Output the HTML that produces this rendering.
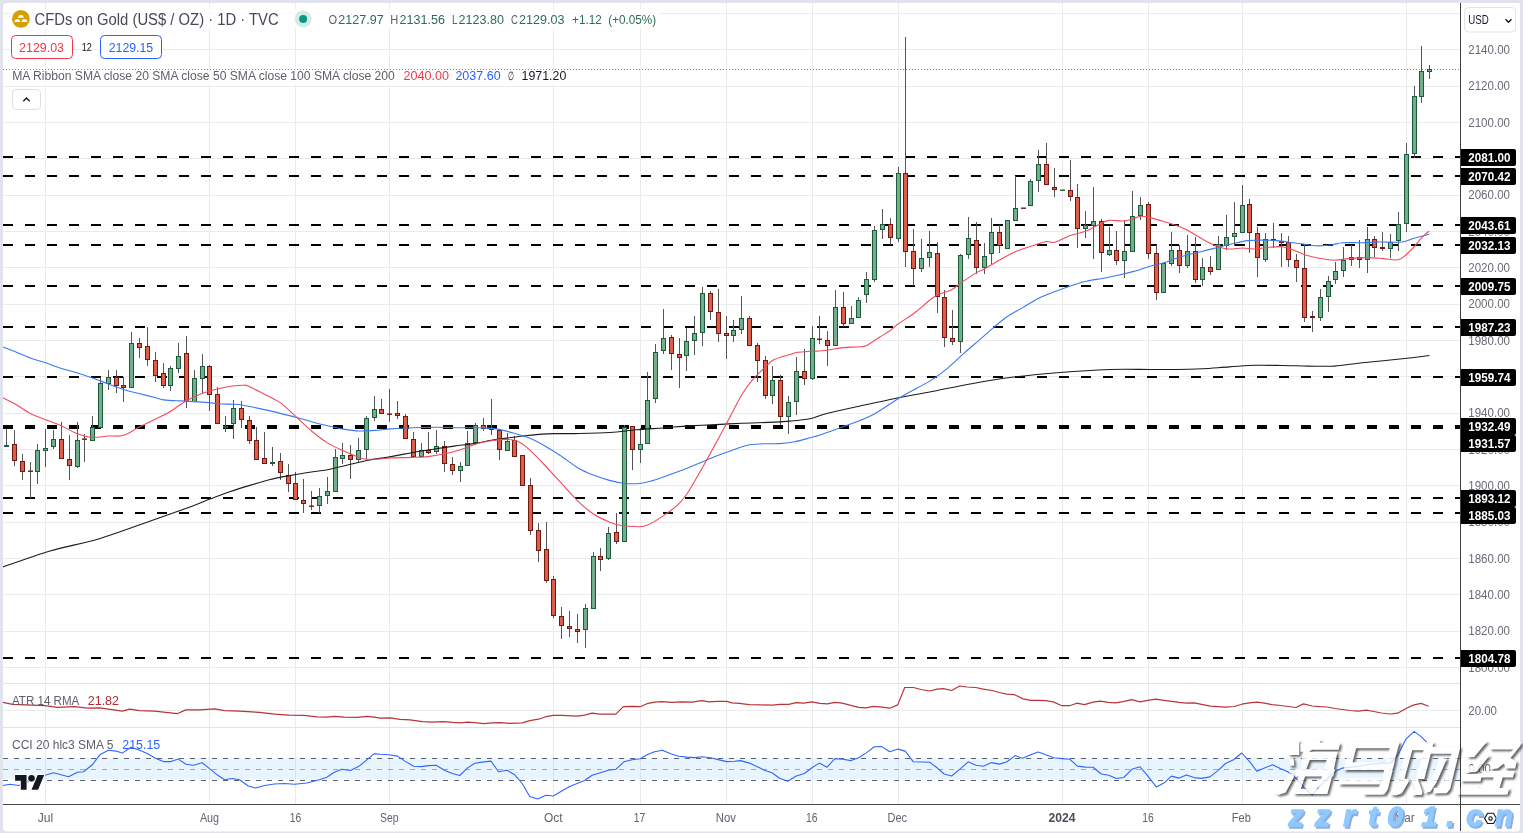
<!DOCTYPE html>
<html><head><meta charset="utf-8"><title>CFDs on Gold</title>
<style>html,body{margin:0;padding:0;background:#e0e3eb;overflow:hidden}body{width:1523px;height:833px;font-family:"Liberation Sans", sans-serif}svg{display:block;opacity:0.999}text{white-space:pre}</style>
</head><body><svg width="1523" height="833" viewBox="0 0 1523 833" font-family='"Liberation Sans", sans-serif' shape-rendering="auto"><rect x="0" y="0" width="1523" height="833" fill="#e0e3eb"/>
<rect x="3" y="3" width="1517" height="828.5" rx="4" ry="4" fill="#ffffff"/>
<path d="M3 13.5H1460 M3 49.5H1460 M3 86.5H1460 M3 122.5H1460 M3 158.5H1460 M3 195.5H1460 M3 231.5H1460 M3 267.5H1460 M3 304.5H1460 M3 340.5H1460 M3 376.5H1460 M3 413.5H1460 M3 449.5H1460 M3 485.5H1460 M3 522.5H1460 M3 558.5H1460 M3 594.5H1460 M3 631.5H1460 M3 667.5H1460 M3 710.5H1460 M45.5 3V804 M209.5 3V804 M295.5 3V804 M389.5 3V804 M553.5 3V804 M640.5 3V804 M726.5 3V804 M812.5 3V804 M898.5 3V804 M1062.5 3V804 M1148.5 3V804 M1242.5 3V804 M1406.5 3V804" stroke="#ebebec" stroke-width="1" fill="none"/>
<path d="M3 683.5H1520M3 727.5H1520" stroke="#e0e3eb" stroke-width="1" fill="none"/>
<rect x="3" y="758" width="1457" height="21.5" fill="#2196f3" fill-opacity="0.1"/>
<path d="M3 758.5H1460M3 780.5H1460" stroke="#5d6173" stroke-width="1" stroke-dasharray="5 6" fill="none"/>
<path d="M3 769.5H1460" stroke="#a4a8b3" stroke-width="1" stroke-dasharray="5 6" fill="none"/>
<path d="M3 69.5H1460" stroke="#5aa17c" stroke-width="1" stroke-dasharray="1 2" fill="none"/>
<path d="M3 157H1470" stroke="#000" stroke-width="2" stroke-dasharray="10 12" fill="none"/>
<path d="M3 176H1470" stroke="#000" stroke-width="2" stroke-dasharray="10 12" fill="none"/>
<path d="M3 225H1470" stroke="#000" stroke-width="2" stroke-dasharray="10 12" fill="none"/>
<path d="M3 245H1470" stroke="#000" stroke-width="2" stroke-dasharray="10 12" fill="none"/>
<path d="M3 286H1470" stroke="#000" stroke-width="2" stroke-dasharray="10 12" fill="none"/>
<path d="M3 327H1470" stroke="#000" stroke-width="2" stroke-dasharray="10 12" fill="none"/>
<path d="M3 377H1470" stroke="#000" stroke-width="2" stroke-dasharray="10 12" fill="none"/>
<path d="M3 426H1470" stroke="#000" stroke-width="2" stroke-dasharray="10 12" fill="none"/>
<path d="M3 428H1470" stroke="#000" stroke-width="2" stroke-dasharray="10 12" fill="none"/>
<path d="M3 498H1470" stroke="#000" stroke-width="2" stroke-dasharray="10 12" fill="none"/>
<path d="M3 513H1470" stroke="#000" stroke-width="2" stroke-dasharray="10 12" fill="none"/>
<path d="M3 658H1470" stroke="#000" stroke-width="2" stroke-dasharray="10 12" fill="none"/>
<path d="M6.5 429V447 M14.5 430V466 M22.5 454V480 M30.5 462V498 M37.5 444V484 M45.5 429V467 M53.5 430V449 M61.5 422V459 M69.5 435V480 M77.5 422V468 M84.5 434V462 M92.5 416V441 M100.5 377V428 M108.5 370V390 M116.5 370V393 M123.5 377V402 M131.5 332V388 M139.5 338V358 M147.5 327V366 M155.5 352V382 M163.5 363V388 M170.5 366V391 M178.5 343V373 M186.5 336V408 M194.5 370V402 M202.5 354V394 M209.5 365V411 M217.5 387V424 M225.5 416V432 M233.5 400V439 M241.5 401V428 M249.5 416V444 M256.5 427V460 M264.5 432V464 M272.5 447V466 M280.5 453V480 M288.5 464V492 M295.5 472V500 M303.5 479V513 M311.5 491V510 M319.5 488V513 M327.5 477V504 M335.5 449V492 M342.5 443V464 M350.5 445V479 M358.5 438V462 M366.5 416V459 M374.5 396V421 M381.5 399V414 M389.5 389V422 M397.5 401V419 M405.5 414V439 M413.5 432V458 M421.5 443V457 M428.5 432V454 M436.5 430V454 M444.5 441V472 M452.5 457V475 M460.5 462V482 M467.5 431V466 M475.5 423V443 M483.5 418V431 M491.5 399V435 M499.5 429V460 M507.5 433V451 M514.5 436V457 M522.5 455V486 M530.5 478V535 M538.5 523V562 M546.5 522V583 M553.5 576V618 M561.5 607V639 M569.5 611V637 M577.5 614V643 M585.5 604V648 M593.5 552V609 M600.5 548V571 M608.5 527V560 M616.5 513V544 M624.5 425V542 M632.5 426V470 M640.5 428V463 M647.5 372V444 M655.5 344V403 M663.5 309V354 M671.5 335V370 M679.5 338V388 M686.5 328V371 M694.5 316V355 M702.5 287V346 M710.5 291V320 M718.5 289V342 M726.5 316V359 M733.5 320V342 M741.5 296V334 M749.5 316V346 M757.5 343V382 M765.5 356V399 M772.5 366V404 M780.5 375V425 M788.5 396V434 M796.5 357V415 M804.5 349V385 M812.5 326V380 M819.5 316V344 M827.5 331V366 M835.5 290V346 M843.5 292V327 M851.5 306V324 M858.5 297V318 M866.5 272V303 M874.5 226V282 M882.5 209V239 M890.5 218V245 M898.5 167V242 M905.5 37V267 M913.5 229V286 M921.5 239V272 M929.5 231V267 M937.5 242V313 M944.5 290V347 M952.5 310V345 M960.5 254V353 M968.5 217V259 M976.5 222V274 M984.5 243V274 M991.5 218V264 M999.5 225V253 M1007.5 220V249 M1015.5 176V221 M1030.5 179V206 M1038.5 150V192 M1046.5 143V185 M1054.5 168V197 M1070.5 160V201 M1077.5 184V248 M1085.5 211V238 M1093.5 187V259 M1101.5 219V272 M1109.5 227V256 M1116.5 231V265 M1124.5 220V278 M1132.5 191V252 M1140.5 197V220 M1148.5 202V259 M1156.5 245V300 M1163.5 263V293 M1171.5 232V266 M1179.5 245V273 M1187.5 235V268 M1195.5 237V283 M1202.5 258V286 M1210.5 256V275 M1218.5 236V270 M1226.5 215V250 M1234.5 202V246 M1242.5 185V233 M1249.5 199V253 M1257.5 227V277 M1265.5 233V262 M1273.5 223V248 M1281.5 233V267 M1288.5 236V267 M1296.5 254V282 M1304.5 244V322 M1312.5 311V332 M1320.5 289V321 M1328.5 276V312 M1335.5 262V284 M1343.5 247V277 M1351.5 245V266 M1359.5 240V268 M1367.5 227V273 M1374.5 236V257 M1382.5 232V251 M1390.5 234V258 M1398.5 212V251 M1406.5 143V232 M1414.5 86V158 M1421.5 46V103 M1429.5 65V79" stroke="#555" stroke-width="1" fill="none"/>
<rect x="4.5" y="445.5" width="4" height="1" fill="#72ad8c" stroke="#1e5b3b" stroke-width="1"/><rect x="12.5" y="444.5" width="4" height="16" fill="#dd5c4a" stroke="#6e1a12" stroke-width="1"/><rect x="20.5" y="461.5" width="4" height="10" fill="#dd5c4a" stroke="#6e1a12" stroke-width="1"/><rect x="28" y="470.5" width="5" height="1.4" fill="#6e1a12"/><rect x="35.5" y="450.5" width="4" height="21" fill="#72ad8c" stroke="#1e5b3b" stroke-width="1"/><rect x="43.5" y="448.5" width="4" height="2" fill="#72ad8c" stroke="#1e5b3b" stroke-width="1"/><rect x="51.5" y="439.5" width="4" height="7" fill="#72ad8c" stroke="#1e5b3b" stroke-width="1"/><rect x="59.5" y="439.5" width="4" height="19" fill="#dd5c4a" stroke="#6e1a12" stroke-width="1"/><rect x="67.5" y="459.5" width="4" height="6" fill="#dd5c4a" stroke="#6e1a12" stroke-width="1"/><rect x="75.5" y="440.5" width="4" height="26" fill="#72ad8c" stroke="#1e5b3b" stroke-width="1"/><rect x="82" y="438.5" width="5" height="1.4" fill="#6e1a12"/><rect x="90.5" y="427.5" width="4" height="13" fill="#72ad8c" stroke="#1e5b3b" stroke-width="1"/><rect x="98.5" y="383.5" width="4" height="44" fill="#72ad8c" stroke="#1e5b3b" stroke-width="1"/><rect x="106.5" y="377.5" width="4" height="6" fill="#72ad8c" stroke="#1e5b3b" stroke-width="1"/><rect x="114.5" y="377.5" width="4" height="8" fill="#dd5c4a" stroke="#6e1a12" stroke-width="1"/><rect x="121.5" y="385.5" width="4" height="2" fill="#dd5c4a" stroke="#6e1a12" stroke-width="1"/><rect x="129.5" y="343.5" width="4" height="44" fill="#72ad8c" stroke="#1e5b3b" stroke-width="1"/><rect x="137.5" y="343.5" width="4" height="4" fill="#dd5c4a" stroke="#6e1a12" stroke-width="1"/><rect x="145.5" y="346.5" width="4" height="13" fill="#dd5c4a" stroke="#6e1a12" stroke-width="1"/><rect x="153.5" y="360.5" width="4" height="15" fill="#dd5c4a" stroke="#6e1a12" stroke-width="1"/><rect x="161.5" y="373.5" width="4" height="12" fill="#dd5c4a" stroke="#6e1a12" stroke-width="1"/><rect x="168.5" y="368.5" width="4" height="17" fill="#72ad8c" stroke="#1e5b3b" stroke-width="1"/><rect x="176.5" y="356.5" width="4" height="12" fill="#72ad8c" stroke="#1e5b3b" stroke-width="1"/><rect x="184.5" y="353.5" width="4" height="48" fill="#dd5c4a" stroke="#6e1a12" stroke-width="1"/><rect x="192.5" y="378.5" width="4" height="23" fill="#72ad8c" stroke="#1e5b3b" stroke-width="1"/><rect x="200.5" y="366.5" width="4" height="12" fill="#72ad8c" stroke="#1e5b3b" stroke-width="1"/><rect x="207.5" y="366.5" width="4" height="28" fill="#dd5c4a" stroke="#6e1a12" stroke-width="1"/><rect x="215.5" y="394.5" width="4" height="29" fill="#dd5c4a" stroke="#6e1a12" stroke-width="1"/><rect x="223.5" y="426.5" width="4" height="1" fill="#72ad8c" stroke="#1e5b3b" stroke-width="1"/><rect x="231.5" y="408.5" width="4" height="15" fill="#72ad8c" stroke="#1e5b3b" stroke-width="1"/><rect x="239.5" y="408.5" width="4" height="11" fill="#dd5c4a" stroke="#6e1a12" stroke-width="1"/><rect x="247.5" y="420.5" width="4" height="20" fill="#dd5c4a" stroke="#6e1a12" stroke-width="1"/><rect x="254.5" y="440.5" width="4" height="19" fill="#dd5c4a" stroke="#6e1a12" stroke-width="1"/><rect x="262.5" y="458.5" width="4" height="5" fill="#dd5c4a" stroke="#6e1a12" stroke-width="1"/><rect x="270.5" y="462.5" width="4" height="1" fill="#72ad8c" stroke="#1e5b3b" stroke-width="1"/><rect x="278.5" y="461.5" width="4" height="11" fill="#dd5c4a" stroke="#6e1a12" stroke-width="1"/><rect x="286.5" y="475.5" width="4" height="8" fill="#dd5c4a" stroke="#6e1a12" stroke-width="1"/><rect x="293.5" y="483.5" width="4" height="16" fill="#dd5c4a" stroke="#6e1a12" stroke-width="1"/><rect x="301.5" y="500.5" width="4" height="3" fill="#dd5c4a" stroke="#6e1a12" stroke-width="1"/><rect x="309" y="505.5" width="5" height="1.4" fill="#6e1a12"/><rect x="317.5" y="496.5" width="4" height="9" fill="#72ad8c" stroke="#1e5b3b" stroke-width="1"/><rect x="325.5" y="491.5" width="4" height="4" fill="#72ad8c" stroke="#1e5b3b" stroke-width="1"/><rect x="333.5" y="457.5" width="4" height="34" fill="#72ad8c" stroke="#1e5b3b" stroke-width="1"/><rect x="340.5" y="455.5" width="4" height="3" fill="#72ad8c" stroke="#1e5b3b" stroke-width="1"/><rect x="348.5" y="455.5" width="4" height="4" fill="#dd5c4a" stroke="#6e1a12" stroke-width="1"/><rect x="356.5" y="450.5" width="4" height="9" fill="#72ad8c" stroke="#1e5b3b" stroke-width="1"/><rect x="364.5" y="418.5" width="4" height="31" fill="#72ad8c" stroke="#1e5b3b" stroke-width="1"/><rect x="372.5" y="409.5" width="4" height="8" fill="#72ad8c" stroke="#1e5b3b" stroke-width="1"/><rect x="379.5" y="409.5" width="4" height="4" fill="#dd5c4a" stroke="#6e1a12" stroke-width="1"/><rect x="387" y="413.5" width="5" height="1.4" fill="#6e1a12"/><rect x="395.5" y="413.5" width="4" height="2" fill="#dd5c4a" stroke="#6e1a12" stroke-width="1"/><rect x="403.5" y="416.5" width="4" height="22" fill="#dd5c4a" stroke="#6e1a12" stroke-width="1"/><rect x="411.5" y="439.5" width="4" height="17" fill="#dd5c4a" stroke="#6e1a12" stroke-width="1"/><rect x="419.5" y="450.5" width="4" height="6" fill="#72ad8c" stroke="#1e5b3b" stroke-width="1"/><rect x="426.5" y="450.5" width="4" height="2" fill="#dd5c4a" stroke="#6e1a12" stroke-width="1"/><rect x="434.5" y="446.5" width="4" height="5" fill="#72ad8c" stroke="#1e5b3b" stroke-width="1"/><rect x="442.5" y="446.5" width="4" height="17" fill="#dd5c4a" stroke="#6e1a12" stroke-width="1"/><rect x="450.5" y="464.5" width="4" height="6" fill="#dd5c4a" stroke="#6e1a12" stroke-width="1"/><rect x="458.5" y="466.5" width="4" height="4" fill="#72ad8c" stroke="#1e5b3b" stroke-width="1"/><rect x="465.5" y="443.5" width="4" height="22" fill="#72ad8c" stroke="#1e5b3b" stroke-width="1"/><rect x="473.5" y="425.5" width="4" height="17" fill="#72ad8c" stroke="#1e5b3b" stroke-width="1"/><rect x="481.5" y="425.5" width="4" height="3" fill="#dd5c4a" stroke="#6e1a12" stroke-width="1"/><rect x="489.5" y="428.5" width="4" height="1" fill="#dd5c4a" stroke="#6e1a12" stroke-width="1"/><rect x="497.5" y="430.5" width="4" height="19" fill="#dd5c4a" stroke="#6e1a12" stroke-width="1"/><rect x="505.5" y="441.5" width="4" height="9" fill="#72ad8c" stroke="#1e5b3b" stroke-width="1"/><rect x="512.5" y="440.5" width="4" height="16" fill="#dd5c4a" stroke="#6e1a12" stroke-width="1"/><rect x="520.5" y="455.5" width="4" height="30" fill="#dd5c4a" stroke="#6e1a12" stroke-width="1"/><rect x="528.5" y="485.5" width="4" height="45" fill="#dd5c4a" stroke="#6e1a12" stroke-width="1"/><rect x="536.5" y="530.5" width="4" height="20" fill="#dd5c4a" stroke="#6e1a12" stroke-width="1"/><rect x="544.5" y="549.5" width="4" height="31" fill="#dd5c4a" stroke="#6e1a12" stroke-width="1"/><rect x="551.5" y="579.5" width="4" height="36" fill="#dd5c4a" stroke="#6e1a12" stroke-width="1"/><rect x="559.5" y="616.5" width="4" height="9" fill="#dd5c4a" stroke="#6e1a12" stroke-width="1"/><rect x="567.5" y="626.5" width="4" height="2" fill="#dd5c4a" stroke="#6e1a12" stroke-width="1"/><rect x="575.5" y="629.5" width="4" height="2" fill="#dd5c4a" stroke="#6e1a12" stroke-width="1"/><rect x="583.5" y="608.5" width="4" height="21" fill="#72ad8c" stroke="#1e5b3b" stroke-width="1"/><rect x="591.5" y="556.5" width="4" height="52" fill="#72ad8c" stroke="#1e5b3b" stroke-width="1"/><rect x="598.5" y="556.5" width="4" height="3" fill="#dd5c4a" stroke="#6e1a12" stroke-width="1"/><rect x="606.5" y="533.5" width="4" height="25" fill="#72ad8c" stroke="#1e5b3b" stroke-width="1"/><rect x="614.5" y="532.5" width="4" height="9" fill="#dd5c4a" stroke="#6e1a12" stroke-width="1"/><rect x="622.5" y="427.5" width="4" height="114" fill="#72ad8c" stroke="#1e5b3b" stroke-width="1"/><rect x="630.5" y="426.5" width="4" height="23" fill="#dd5c4a" stroke="#6e1a12" stroke-width="1"/><rect x="638.5" y="444.5" width="4" height="5" fill="#72ad8c" stroke="#1e5b3b" stroke-width="1"/><rect x="645.5" y="400.5" width="4" height="43" fill="#72ad8c" stroke="#1e5b3b" stroke-width="1"/><rect x="653.5" y="352.5" width="4" height="46" fill="#72ad8c" stroke="#1e5b3b" stroke-width="1"/><rect x="661.5" y="338.5" width="4" height="12" fill="#72ad8c" stroke="#1e5b3b" stroke-width="1"/><rect x="669.5" y="337.5" width="4" height="16" fill="#dd5c4a" stroke="#6e1a12" stroke-width="1"/><rect x="677.5" y="354.5" width="4" height="3" fill="#dd5c4a" stroke="#6e1a12" stroke-width="1"/><rect x="684.5" y="341.5" width="4" height="14" fill="#72ad8c" stroke="#1e5b3b" stroke-width="1"/><rect x="692.5" y="333.5" width="4" height="7" fill="#72ad8c" stroke="#1e5b3b" stroke-width="1"/><rect x="700.5" y="293.5" width="4" height="39" fill="#72ad8c" stroke="#1e5b3b" stroke-width="1"/><rect x="708.5" y="293.5" width="4" height="18" fill="#dd5c4a" stroke="#6e1a12" stroke-width="1"/><rect x="716.5" y="312.5" width="4" height="21" fill="#dd5c4a" stroke="#6e1a12" stroke-width="1"/><rect x="724.5" y="333.5" width="4" height="2" fill="#dd5c4a" stroke="#6e1a12" stroke-width="1"/><rect x="731.5" y="330.5" width="4" height="5" fill="#72ad8c" stroke="#1e5b3b" stroke-width="1"/><rect x="739.5" y="318.5" width="4" height="11" fill="#72ad8c" stroke="#1e5b3b" stroke-width="1"/><rect x="747.5" y="318.5" width="4" height="27" fill="#dd5c4a" stroke="#6e1a12" stroke-width="1"/><rect x="755.5" y="345.5" width="4" height="15" fill="#dd5c4a" stroke="#6e1a12" stroke-width="1"/><rect x="763.5" y="360.5" width="4" height="35" fill="#dd5c4a" stroke="#6e1a12" stroke-width="1"/><rect x="770.5" y="380.5" width="4" height="15" fill="#72ad8c" stroke="#1e5b3b" stroke-width="1"/><rect x="778.5" y="380.5" width="4" height="36" fill="#dd5c4a" stroke="#6e1a12" stroke-width="1"/><rect x="786.5" y="402.5" width="4" height="14" fill="#72ad8c" stroke="#1e5b3b" stroke-width="1"/><rect x="794.5" y="371.5" width="4" height="30" fill="#72ad8c" stroke="#1e5b3b" stroke-width="1"/><rect x="802.5" y="371.5" width="4" height="7" fill="#dd5c4a" stroke="#6e1a12" stroke-width="1"/><rect x="810.5" y="338.5" width="4" height="40" fill="#72ad8c" stroke="#1e5b3b" stroke-width="1"/><rect x="817" y="338.5" width="5" height="1.4" fill="#6e1a12"/><rect x="825.5" y="340.5" width="4" height="5" fill="#dd5c4a" stroke="#6e1a12" stroke-width="1"/><rect x="833.5" y="307.5" width="4" height="38" fill="#72ad8c" stroke="#1e5b3b" stroke-width="1"/><rect x="841.5" y="307.5" width="4" height="16" fill="#dd5c4a" stroke="#6e1a12" stroke-width="1"/><rect x="849.5" y="318.5" width="4" height="5" fill="#72ad8c" stroke="#1e5b3b" stroke-width="1"/><rect x="856.5" y="300.5" width="4" height="17" fill="#72ad8c" stroke="#1e5b3b" stroke-width="1"/><rect x="864.5" y="279.5" width="4" height="15" fill="#72ad8c" stroke="#1e5b3b" stroke-width="1"/><rect x="872.5" y="230.5" width="4" height="49" fill="#72ad8c" stroke="#1e5b3b" stroke-width="1"/><rect x="880.5" y="224.5" width="4" height="5" fill="#72ad8c" stroke="#1e5b3b" stroke-width="1"/><rect x="888.5" y="224.5" width="4" height="13" fill="#dd5c4a" stroke="#6e1a12" stroke-width="1"/><rect x="896.5" y="173.5" width="4" height="65" fill="#72ad8c" stroke="#1e5b3b" stroke-width="1"/><rect x="903.5" y="173.5" width="4" height="78" fill="#dd5c4a" stroke="#6e1a12" stroke-width="1"/><rect x="911.5" y="251.5" width="4" height="17" fill="#dd5c4a" stroke="#6e1a12" stroke-width="1"/><rect x="919.5" y="258.5" width="4" height="10" fill="#72ad8c" stroke="#1e5b3b" stroke-width="1"/><rect x="927.5" y="252.5" width="4" height="5" fill="#72ad8c" stroke="#1e5b3b" stroke-width="1"/><rect x="935.5" y="253.5" width="4" height="43" fill="#dd5c4a" stroke="#6e1a12" stroke-width="1"/><rect x="942.5" y="297.5" width="4" height="40" fill="#dd5c4a" stroke="#6e1a12" stroke-width="1"/><rect x="950.5" y="338.5" width="4" height="3" fill="#dd5c4a" stroke="#6e1a12" stroke-width="1"/><rect x="958.5" y="255.5" width="4" height="86" fill="#72ad8c" stroke="#1e5b3b" stroke-width="1"/><rect x="966.5" y="238.5" width="4" height="16" fill="#72ad8c" stroke="#1e5b3b" stroke-width="1"/><rect x="974.5" y="240.5" width="4" height="27" fill="#dd5c4a" stroke="#6e1a12" stroke-width="1"/><rect x="982.5" y="256.5" width="4" height="11" fill="#72ad8c" stroke="#1e5b3b" stroke-width="1"/><rect x="989.5" y="232.5" width="4" height="21" fill="#72ad8c" stroke="#1e5b3b" stroke-width="1"/><rect x="997.5" y="232.5" width="4" height="13" fill="#dd5c4a" stroke="#6e1a12" stroke-width="1"/><rect x="1005.5" y="220.5" width="4" height="28" fill="#72ad8c" stroke="#1e5b3b" stroke-width="1"/><rect x="1013.5" y="208.5" width="4" height="12" fill="#72ad8c" stroke="#1e5b3b" stroke-width="1"/><rect x="1021" y="207.5" width="5" height="1.4" fill="#6e1a12"/><rect x="1028.5" y="181.5" width="4" height="24" fill="#72ad8c" stroke="#1e5b3b" stroke-width="1"/><rect x="1036.5" y="164.5" width="4" height="16" fill="#72ad8c" stroke="#1e5b3b" stroke-width="1"/><rect x="1044.5" y="164.5" width="4" height="20" fill="#dd5c4a" stroke="#6e1a12" stroke-width="1"/><rect x="1052.5" y="187.5" width="4" height="2" fill="#dd5c4a" stroke="#6e1a12" stroke-width="1"/><rect x="1060" y="189.5" width="5" height="1.4" fill="#1e5b3b"/><rect x="1068.5" y="190.5" width="4" height="6" fill="#dd5c4a" stroke="#6e1a12" stroke-width="1"/><rect x="1075.5" y="197.5" width="4" height="31" fill="#dd5c4a" stroke="#6e1a12" stroke-width="1"/><rect x="1083.5" y="225.5" width="4" height="3" fill="#72ad8c" stroke="#1e5b3b" stroke-width="1"/><rect x="1091.5" y="221.5" width="4" height="4" fill="#72ad8c" stroke="#1e5b3b" stroke-width="1"/><rect x="1099.5" y="221.5" width="4" height="31" fill="#dd5c4a" stroke="#6e1a12" stroke-width="1"/><rect x="1107.5" y="250.5" width="4" height="4" fill="#72ad8c" stroke="#1e5b3b" stroke-width="1"/><rect x="1114.5" y="250.5" width="4" height="10" fill="#dd5c4a" stroke="#6e1a12" stroke-width="1"/><rect x="1122.5" y="251.5" width="4" height="9" fill="#72ad8c" stroke="#1e5b3b" stroke-width="1"/><rect x="1130.5" y="216.5" width="4" height="35" fill="#72ad8c" stroke="#1e5b3b" stroke-width="1"/><rect x="1138.5" y="205.5" width="4" height="10" fill="#72ad8c" stroke="#1e5b3b" stroke-width="1"/><rect x="1146.5" y="204.5" width="4" height="49" fill="#dd5c4a" stroke="#6e1a12" stroke-width="1"/><rect x="1154.5" y="253.5" width="4" height="39" fill="#dd5c4a" stroke="#6e1a12" stroke-width="1"/><rect x="1161.5" y="263.5" width="4" height="29" fill="#72ad8c" stroke="#1e5b3b" stroke-width="1"/><rect x="1169.5" y="250.5" width="4" height="13" fill="#72ad8c" stroke="#1e5b3b" stroke-width="1"/><rect x="1177.5" y="250.5" width="4" height="15" fill="#dd5c4a" stroke="#6e1a12" stroke-width="1"/><rect x="1185.5" y="251.5" width="4" height="14" fill="#72ad8c" stroke="#1e5b3b" stroke-width="1"/><rect x="1193.5" y="251.5" width="4" height="28" fill="#dd5c4a" stroke="#6e1a12" stroke-width="1"/><rect x="1200.5" y="267.5" width="4" height="12" fill="#72ad8c" stroke="#1e5b3b" stroke-width="1"/><rect x="1208.5" y="267.5" width="4" height="4" fill="#dd5c4a" stroke="#6e1a12" stroke-width="1"/><rect x="1216.5" y="244.5" width="4" height="25" fill="#72ad8c" stroke="#1e5b3b" stroke-width="1"/><rect x="1224.5" y="237.5" width="4" height="8" fill="#72ad8c" stroke="#1e5b3b" stroke-width="1"/><rect x="1232.5" y="233.5" width="4" height="3" fill="#72ad8c" stroke="#1e5b3b" stroke-width="1"/><rect x="1240.5" y="205.5" width="4" height="27" fill="#72ad8c" stroke="#1e5b3b" stroke-width="1"/><rect x="1247.5" y="204.5" width="4" height="28" fill="#dd5c4a" stroke="#6e1a12" stroke-width="1"/><rect x="1255.5" y="233.5" width="4" height="24" fill="#dd5c4a" stroke="#6e1a12" stroke-width="1"/><rect x="1263.5" y="239.5" width="4" height="20" fill="#72ad8c" stroke="#1e5b3b" stroke-width="1"/><rect x="1271.5" y="239.5" width="4" height="1" fill="#dd5c4a" stroke="#6e1a12" stroke-width="1"/><rect x="1279.5" y="241.5" width="4" height="1" fill="#dd5c4a" stroke="#6e1a12" stroke-width="1"/><rect x="1286.5" y="242.5" width="4" height="17" fill="#dd5c4a" stroke="#6e1a12" stroke-width="1"/><rect x="1294.5" y="260.5" width="4" height="7" fill="#dd5c4a" stroke="#6e1a12" stroke-width="1"/><rect x="1302.5" y="268.5" width="4" height="49" fill="#dd5c4a" stroke="#6e1a12" stroke-width="1"/><rect x="1310.5" y="316.5" width="4" height="1" fill="#dd5c4a" stroke="#6e1a12" stroke-width="1"/><rect x="1318.5" y="297.5" width="4" height="20" fill="#72ad8c" stroke="#1e5b3b" stroke-width="1"/><rect x="1326.5" y="281.5" width="4" height="15" fill="#72ad8c" stroke="#1e5b3b" stroke-width="1"/><rect x="1333.5" y="271.5" width="4" height="8" fill="#72ad8c" stroke="#1e5b3b" stroke-width="1"/><rect x="1341.5" y="260.5" width="4" height="10" fill="#72ad8c" stroke="#1e5b3b" stroke-width="1"/><rect x="1349.5" y="257.5" width="4" height="2" fill="#72ad8c" stroke="#1e5b3b" stroke-width="1"/><rect x="1357.5" y="257.5" width="4" height="2" fill="#dd5c4a" stroke="#6e1a12" stroke-width="1"/><rect x="1365.5" y="239.5" width="4" height="20" fill="#72ad8c" stroke="#1e5b3b" stroke-width="1"/><rect x="1372.5" y="239.5" width="4" height="8" fill="#dd5c4a" stroke="#6e1a12" stroke-width="1"/><rect x="1380.5" y="247.5" width="4" height="1" fill="#dd5c4a" stroke="#6e1a12" stroke-width="1"/><rect x="1388.5" y="242.5" width="4" height="6" fill="#72ad8c" stroke="#1e5b3b" stroke-width="1"/><rect x="1396.5" y="224.5" width="4" height="16" fill="#72ad8c" stroke="#1e5b3b" stroke-width="1"/><rect x="1404.5" y="154.5" width="4" height="69" fill="#72ad8c" stroke="#1e5b3b" stroke-width="1"/><rect x="1412.5" y="96.5" width="4" height="57" fill="#72ad8c" stroke="#1e5b3b" stroke-width="1"/><rect x="1419.5" y="71.5" width="4" height="25" fill="#72ad8c" stroke="#1e5b3b" stroke-width="1"/><rect x="1427.5" y="69.5" width="4" height="2" fill="#72ad8c" stroke="#1e5b3b" stroke-width="1"/>
<path d="M3.0 567.0C10.5 564.4 34.5 555.6 50.0 551.0C65.5 546.4 83.5 543.5 100.0 538.5C116.5 533.5 138.8 525.0 153.2 520.0C167.6 515.0 180.9 510.3 190.0 507.0C199.1 503.7 203.5 501.5 209.8 499.1C216.1 496.7 223.0 493.9 229.6 491.7C236.2 489.5 244.4 487.0 250.8 485.1C257.2 483.2 263.4 481.3 269.3 479.8C275.2 478.3 281.9 477.0 287.8 475.9C293.7 474.8 299.9 473.7 306.2 472.7C312.5 471.7 320.6 471.1 327.4 469.8C334.2 468.5 341.7 466.4 348.5 464.8C355.3 463.2 362.9 461.3 369.7 460.0C376.5 458.7 384.1 457.8 390.9 456.6C397.7 455.4 405.2 453.9 412.0 452.7C418.8 451.5 426.3 450.3 433.1 449.2C439.9 448.1 447.5 447.0 454.3 446.1C461.1 445.2 469.5 444.3 475.4 443.4C481.3 442.5 486.1 441.0 491.2 440.2C496.3 439.4 502.0 438.8 507.1 438.1C512.2 437.4 517.9 436.6 523.0 436.0C528.1 435.4 533.7 434.8 538.8 434.4C543.9 434.0 548.9 433.7 554.7 433.6C560.5 433.5 566.2 433.8 575.0 433.6C583.8 433.4 600.2 433.1 610.0 432.5C619.8 431.9 628.0 430.5 636.4 429.8C644.8 429.1 654.3 428.6 662.8 428.0C671.3 427.4 680.8 426.4 689.3 425.9C697.8 425.4 707.3 425.0 715.7 424.6C724.1 424.2 733.7 423.6 742.1 423.2C750.5 422.8 760.9 422.7 768.5 422.4C776.1 422.1 783.1 421.7 789.7 421.1C796.3 420.5 804.4 419.8 810.0 418.7C815.6 417.6 817.0 416.0 825.0 414.0C833.0 412.0 848.0 408.6 860.0 406.0C872.0 403.4 888.0 399.9 900.0 397.5C912.0 395.1 923.8 393.2 935.0 391.0C946.2 388.8 958.0 386.2 970.0 384.0C982.0 381.8 995.6 379.3 1010.0 377.5C1024.4 375.7 1044.0 373.8 1060.0 372.5C1076.0 371.2 1095.6 370.0 1110.0 369.5C1124.4 369.0 1139.4 369.5 1150.0 369.5C1160.6 369.5 1168.0 369.6 1176.4 369.5C1184.8 369.4 1194.3 369.1 1202.8 368.7C1211.3 368.3 1220.8 367.4 1229.3 366.9C1237.8 366.4 1247.3 365.5 1255.7 365.3C1264.1 365.1 1273.7 365.4 1282.1 365.5C1290.5 365.6 1300.1 366.0 1308.5 366.1C1316.9 366.2 1326.7 366.6 1334.9 366.1C1343.1 365.6 1349.6 364.1 1360.0 363.0C1370.4 361.9 1388.9 360.2 1400.0 359.0C1411.1 357.8 1424.8 356.1 1429.5 355.5" stroke="#1c1c1c" stroke-width="1.1" fill="none" stroke-linejoin="round"/>
<path d="M3.2 347.0C5.2 347.8 11.5 350.2 15.9 352.0C20.3 353.8 25.8 356.4 30.4 358.1C35.0 359.8 40.0 361.0 44.9 362.6C49.8 364.2 55.7 366.6 60.8 368.2C65.9 369.8 71.5 371.1 76.6 372.7C81.7 374.3 87.4 376.1 92.5 377.9C97.6 379.7 103.2 382.1 108.3 384.0C113.4 385.9 119.1 388.2 124.2 389.8C129.3 391.4 134.9 392.5 140.0 393.8C145.1 395.1 152.1 396.8 155.9 397.8C159.7 398.8 160.0 399.4 163.8 399.9C167.6 400.4 175.5 400.7 179.7 400.9C183.9 401.1 185.8 401.2 190.0 401.4C194.2 401.6 200.8 402.0 205.9 402.4C211.0 402.8 216.6 403.7 221.7 404.0C226.8 404.3 232.5 404.0 237.6 404.5C242.7 405.0 248.3 406.2 253.4 407.2C258.5 408.2 264.2 409.4 269.3 410.6C274.4 411.8 280.9 413.5 285.1 414.6C289.3 415.7 291.5 416.1 295.7 417.2C299.9 418.3 306.4 420.3 311.5 421.7C316.6 423.1 322.3 424.5 327.4 425.7C332.5 426.9 338.1 428.3 343.2 429.1C348.3 429.9 354.0 430.8 359.1 431.0C364.2 431.2 369.8 430.7 374.9 430.4C380.0 430.1 385.0 429.3 390.9 428.9C396.8 428.5 404.8 428.1 412.0 427.8C419.2 427.5 428.2 427.3 435.8 427.3C443.4 427.3 452.3 427.7 459.5 427.8C466.7 427.9 474.8 427.6 480.7 427.8C486.6 428.0 491.4 428.1 496.5 428.9C501.6 429.7 507.3 431.4 512.4 432.8C517.5 434.2 523.1 435.6 528.2 437.6C533.3 439.6 539.0 442.7 544.1 445.5C549.2 448.3 554.5 451.7 559.9 455.3C565.3 458.9 572.2 464.5 577.6 467.7C583.0 470.9 588.3 473.1 593.4 475.1C598.5 477.1 604.5 479.1 609.3 480.4C614.1 481.7 618.4 482.7 623.2 483.2C628.0 483.7 634.4 483.9 639.1 483.5C643.8 483.1 647.7 481.9 652.3 480.6C656.9 479.3 663.0 477.1 668.1 475.3C673.2 473.5 678.9 471.5 684.0 469.5C689.1 467.5 694.7 465.0 699.8 462.9C704.9 460.8 710.6 458.3 715.7 456.3C720.8 454.3 726.4 452.2 731.5 450.4C736.6 448.6 742.3 446.3 747.4 445.2C752.5 444.1 758.1 444.1 763.2 443.8C768.3 443.5 774.0 443.9 779.1 443.6C784.2 443.3 790.0 442.6 794.9 441.7C799.8 440.8 806.0 438.9 810.0 437.8C814.0 436.7 814.4 436.9 820.0 435.0C825.6 433.1 836.6 429.2 845.0 426.0C853.4 422.8 863.7 419.6 872.5 415.0C881.3 410.4 890.6 403.1 900.0 397.5C909.4 391.9 923.5 384.9 931.3 380.1C939.1 375.3 943.2 371.8 948.5 367.4C953.8 363.0 959.5 357.3 964.4 352.9C969.3 348.5 974.5 344.2 979.2 340.1C983.9 336.0 989.4 331.1 993.8 327.4C998.2 323.7 1002.4 320.0 1007.0 316.8C1011.6 313.6 1017.7 310.6 1022.8 307.6C1027.9 304.6 1033.6 300.8 1038.7 298.3C1043.8 295.8 1049.4 293.7 1054.5 291.7C1059.6 289.7 1065.3 287.6 1070.4 285.9C1075.5 284.2 1081.1 282.4 1086.2 281.2C1091.3 280.0 1097.0 279.4 1102.1 278.5C1107.2 277.6 1112.8 276.4 1117.9 275.3C1123.0 274.2 1128.7 272.8 1133.8 271.4C1138.9 270.0 1145.3 267.6 1150.0 266.3C1154.7 265.0 1159.0 264.3 1163.2 263.0C1167.4 261.7 1172.2 259.7 1176.4 258.3C1180.6 256.9 1185.4 255.4 1189.6 254.3C1193.8 253.2 1198.1 252.3 1202.8 251.2C1207.5 250.1 1213.6 248.5 1218.7 247.2C1223.8 245.9 1229.8 244.3 1234.5 243.2C1239.2 242.1 1243.6 241.1 1247.8 240.6C1252.0 240.1 1256.4 240.1 1261.0 240.1C1265.6 240.1 1271.7 240.2 1276.8 240.6C1281.9 241.0 1288.0 242.1 1292.7 242.7C1297.4 243.3 1301.7 244.0 1305.9 244.5C1310.1 245.0 1314.9 245.9 1319.1 245.9C1323.3 245.9 1328.6 245.3 1332.3 244.8C1336.0 244.3 1337.9 243.0 1342.5 242.7C1347.1 242.4 1355.2 242.8 1361.2 242.7C1367.2 242.6 1373.4 242.1 1379.9 242.0C1386.4 241.9 1396.2 242.6 1401.7 242.0C1407.2 241.4 1409.8 239.5 1414.2 238.3C1418.6 237.1 1426.8 234.9 1429.2 234.2" stroke="#3a7af3" stroke-width="1.1" fill="none" stroke-linejoin="round"/>
<path d="M3.2 397.8C5.2 398.9 11.5 401.9 15.9 404.4C20.3 406.9 25.8 411.2 30.4 413.6C35.0 416.0 40.0 417.5 44.9 419.4C49.8 421.3 55.7 423.3 60.8 425.5C65.9 427.7 71.5 431.5 76.6 433.4C81.7 435.3 87.4 437.0 92.5 437.4C97.6 437.8 103.4 436.3 108.3 436.0C113.2 435.7 118.2 436.8 122.9 435.5C127.6 434.2 132.6 430.5 137.4 428.1C142.2 425.7 148.1 422.7 153.2 420.2C158.3 417.7 163.9 415.3 169.0 412.3C174.1 409.3 180.0 404.5 184.9 401.7C189.8 398.9 194.5 396.5 199.5 394.5C204.5 392.5 211.2 390.6 216.4 389.2C221.6 387.8 228.1 386.6 232.3 386.0C236.5 385.4 240.3 385.3 242.8 385.3C245.3 385.3 244.7 384.6 248.1 386.0C251.5 387.4 258.9 391.4 264.0 394.0C269.1 396.6 274.7 398.8 279.8 402.4C284.9 406.0 290.6 411.8 295.7 416.4C300.8 421.0 306.4 426.8 311.5 431.0C316.6 435.2 322.3 439.7 327.4 442.9C332.5 446.1 338.1 448.5 343.2 450.8C348.3 453.1 355.3 456.1 359.1 457.4C362.9 458.7 363.7 458.9 367.0 459.2C370.3 459.5 376.2 459.2 380.0 459.0C383.8 458.8 385.8 458.2 390.9 457.9C396.0 457.6 406.1 457.6 412.0 457.4C417.9 457.2 422.7 457.1 427.8 456.6C432.9 456.1 438.6 455.1 443.7 454.0C448.8 452.9 454.4 451.6 459.5 450.0C464.6 448.4 470.3 445.7 475.4 444.2C480.5 442.7 486.1 441.6 491.2 440.8C496.3 440.0 502.9 439.3 507.1 439.4C511.3 439.5 514.3 439.8 517.7 441.3C521.1 442.8 524.0 445.0 528.2 448.7C532.4 452.4 539.0 459.2 544.1 464.5C549.2 469.8 554.5 475.9 559.9 481.7C565.3 487.5 572.2 495.6 577.6 500.8C583.0 506.0 588.3 510.6 593.4 514.0C598.5 517.4 605.1 520.1 609.3 521.9C613.5 523.7 615.0 524.5 619.8 525.3C624.6 526.1 635.2 526.7 639.6 526.7C644.0 526.7 644.0 526.7 647.6 525.1C651.2 523.5 657.2 519.9 662.1 516.6C667.0 513.3 673.8 508.7 678.0 504.7C682.2 500.7 685.1 496.5 688.5 491.5C691.9 486.5 695.7 479.4 699.1 473.5C702.5 467.6 706.2 460.9 709.7 454.5C713.2 448.1 717.5 440.3 721.0 433.8C724.5 427.3 728.1 420.3 731.5 414.0C734.9 407.7 738.7 399.7 742.1 394.2C745.5 388.7 749.3 383.6 752.7 379.6C756.1 375.6 759.8 372.3 763.2 369.1C766.6 365.9 769.6 362.1 773.8 359.8C778.0 357.5 785.8 355.7 789.7 354.5C793.6 353.3 794.3 352.8 797.9 352.3C801.5 351.8 807.8 351.6 812.5 351.3C817.2 351.0 822.2 350.8 827.0 350.2C831.8 349.6 837.7 348.1 842.8 347.6C847.9 347.1 854.9 347.1 858.7 346.8C862.5 346.5 863.2 347.1 866.6 345.5C870.0 343.9 876.0 339.4 879.8 337.0C883.6 334.6 887.4 332.5 890.4 330.4C893.4 328.3 894.5 326.6 898.3 323.8C902.1 321.0 909.1 317.0 914.2 313.2C919.3 309.4 926.2 303.0 930.0 300.0C933.8 297.0 934.5 296.3 937.9 294.7C941.3 293.1 947.8 291.7 951.2 290.0C954.6 288.3 955.3 286.8 959.1 284.2C962.9 281.6 970.6 276.2 974.9 273.6C979.2 271.0 981.6 270.4 985.9 268.0C990.2 265.6 996.6 261.5 1001.7 258.7C1006.8 255.9 1012.5 252.9 1017.6 250.8C1022.7 248.7 1028.8 247.0 1033.4 245.5C1038.0 244.0 1043.2 242.0 1046.6 241.5C1050.0 241.0 1050.7 243.3 1054.5 242.3C1058.3 241.3 1065.3 237.3 1070.4 235.5C1075.5 233.7 1082.0 232.6 1086.2 231.0C1090.4 229.4 1093.2 227.4 1096.8 225.7C1100.4 224.0 1104.3 221.2 1108.7 220.4C1113.1 219.6 1119.5 221.5 1124.6 220.9C1129.7 220.3 1136.3 216.9 1140.4 216.4C1144.5 215.9 1146.4 216.8 1150.0 217.6C1153.6 218.4 1159.0 220.0 1163.2 221.3C1167.4 222.6 1172.6 224.1 1176.4 225.5C1180.2 226.9 1182.8 227.8 1187.0 230.0C1191.2 232.2 1198.2 236.8 1202.8 239.3C1207.4 241.8 1211.8 244.3 1216.0 245.9C1220.2 247.5 1225.1 248.7 1229.3 249.0C1233.5 249.3 1238.3 248.0 1242.5 248.0C1246.7 248.0 1251.5 249.1 1255.7 249.0C1259.9 248.9 1264.7 247.6 1268.9 247.2C1273.1 246.8 1278.3 246.3 1282.1 246.7C1285.9 247.1 1288.9 248.5 1292.7 249.8C1296.5 251.1 1301.7 253.7 1305.9 255.1C1310.1 256.5 1314.5 257.5 1319.1 258.3C1323.7 259.1 1330.2 260.2 1334.9 260.2C1339.6 260.2 1343.5 259.0 1348.7 258.6C1353.9 258.2 1361.9 257.6 1367.4 257.6C1372.9 257.6 1378.1 258.2 1383.0 258.6C1387.9 259.0 1394.3 260.5 1398.0 259.8C1401.7 259.1 1403.8 256.6 1406.4 254.5C1409.0 252.4 1411.7 249.4 1414.2 246.7C1416.7 244.0 1419.6 239.9 1422.0 237.4C1424.4 234.9 1428.0 232.1 1429.2 231.1" stroke="#f24a5c" stroke-width="1.1" fill="none" stroke-linejoin="round"/>
<path d="M3.0 702.4L12.5 704.4L44.9 705.7L57.4 707.4L74.9 706.7L87.3 708.2L99.8 707.9L122.3 711.2L129.7 709.2L139.7 710.7L154.7 711.2L177.1 713.7L185.9 709.9L199.6 709.9L214.6 708.9L224.6 710.7L239.5 711.2L259.5 712.4L274.5 714.2L289.4 715.2L304.4 715.4L316.9 716.9L326.8 717.2L334.3 716.4L344.3 717.2L356.8 717.4L366.8 716.4L374.3 717.2L380.0 718.2L390.0 717.9L400.0 719.4L409.9 719.9L422.4 721.6L432.4 722.1L443.6 721.6L452.4 722.4L460.8 722.9L467.3 722.1L474.8 722.6L483.5 723.6L492.3 722.9L499.8 722.6L509.7 723.4L522.2 722.9L529.7 720.6L538.4 719.2L545.9 716.7L553.4 715.4L562.1 715.4L577.1 716.2L584.6 715.2L592.1 713.2L599.6 714.2L615.8 714.2L623.3 706.7L632.0 706.4L640.2 706.7L647.0 703.7L654.5 702.2L661.9 701.7L671.9 702.4L681.9 701.9L691.9 702.2L701.9 700.7L709.3 701.9L716.8 701.4L726.8 701.4L731.8 702.9L739.3 703.4L749.3 704.7L760.0 704.9L772.5 705.2L780.0 704.4L788.7 704.4L796.2 702.7L803.7 703.2L811.9 701.9L819.9 703.4L827.4 703.9L834.9 702.4L842.3 703.2L849.8 705.2L858.6 707.4L866.0 707.9L873.5 706.4L882.3 707.2L889.7 708.2L897.7 704.9L904.7 687.5L913.4 687.5L920.9 689.5L929.7 691.0L937.1 689.2L943.4 688.7L951.6 690.5L959.6 686.0L967.1 687.0L975.8 687.5L983.3 689.2L992.0 690.5L999.5 692.5L1007.0 694.2L1014.5 694.7L1023.2 698.9L1030.7 700.4L1038.2 700.4L1045.7 700.7L1053.2 701.9L1061.9 705.7L1069.4 705.7L1076.9 703.2L1084.4 704.7L1093.1 702.2L1100.6 701.2L1108.0 702.4L1115.5 702.9L1123.0 701.7L1131.8 699.7L1140.0 701.9L1147.5 700.4L1155.6 699.2L1163.9 700.4L1171.4 701.4L1179.0 702.4L1186.5 703.2L1194.1 702.9L1201.6 704.4L1210.4 706.2L1217.9 706.7L1225.5 707.2L1234.3 706.5L1241.8 704.2L1249.4 702.9L1256.9 702.2L1264.5 703.2L1272.0 704.7L1280.8 705.5L1288.4 706.5L1295.9 707.5L1303.4 703.9L1312.2 706.0L1319.8 706.7L1327.3 707.0L1334.9 708.5L1342.4 709.5L1350.0 710.5L1358.3 711.2L1366.3 710.2L1373.8 711.5L1381.4 713.0L1390.2 714.0L1397.7 713.2L1406.5 708.2L1414.1 704.9L1421.1 703.4L1428.7 706.2" stroke="#b8343a" stroke-width="1.2" fill="none" stroke-linejoin="round"/>
<path d="M3.0 785.5L10.0 784.3L18.7 785.5L44.9 775.3L53.6 772.8L68.6 776.8L77.3 772.3L83.6 771.8L92.3 764.8L99.8 754.8L108.5 750.3L116.0 751.1L122.3 753.1L131.0 747.3L139.7 750.3L147.2 753.6L155.9 758.6L163.4 761.6L170.9 761.6L178.4 759.1L185.9 764.3L193.4 765.3L202.1 762.8L209.6 768.6L217.1 774.8L224.6 779.8L232.0 778.5L239.5 779.8L248.3 786.0L255.7 788.0L264.5 785.5L274.5 784.0L284.4 783.5L294.4 784.3L306.9 783.0L319.4 779.8L326.8 777.3L334.3 772.3L341.8 769.3L350.5 770.5L359.3 766.1L366.8 759.8L374.3 753.6L380.0 754.3L388.7 754.8L397.5 756.1L404.9 761.1L413.7 766.3L421.2 766.6L428.7 765.6L436.1 765.3L444.9 770.5L452.4 773.5L459.8 775.5L467.3 768.1L474.8 763.3L482.3 762.1L491.0 761.1L498.5 771.8L507.2 770.3L514.7 774.8L522.2 783.5L529.7 796.5L537.7 799.0L545.9 795.2L553.4 796.0L560.9 791.5L569.6 786.5L577.1 783.5L584.6 780.5L592.1 775.3L599.6 773.0L608.3 770.3L615.8 769.3L624.0 761.8L632.0 759.8L640.2 758.8L647.0 754.8L654.5 751.8L662.4 750.3L670.7 753.8L678.7 756.3L686.9 757.1L694.4 757.6L701.9 756.8L710.6 757.8L718.1 759.6L726.8 761.6L734.3 761.3L740.5 760.6L749.3 763.1L760.0 768.1L765.0 770.5L772.0 772.8L780.0 778.5L787.9 781.3L796.2 776.0L804.4 773.5L811.9 767.8L819.4 763.1L826.9 767.3L834.9 758.6L842.8 759.3L851.1 760.6L858.6 757.8L866.0 753.1L874.3 746.8L881.8 746.6L889.7 751.8L898.0 749.1L905.2 751.1L913.4 761.8L929.7 762.3L937.1 767.8L944.1 774.0L951.6 776.0L959.6 769.3L968.3 761.8L975.8 765.3L983.3 766.3L991.5 762.6L999.5 764.1L1007.0 761.8L1015.0 755.6L1022.5 758.3L1030.7 754.8L1038.2 752.1L1045.7 754.8L1053.9 757.8L1061.9 758.6L1069.9 759.3L1077.4 766.1L1085.6 767.1L1093.1 767.3L1101.3 774.0L1108.8 775.3L1116.3 778.5L1123.8 777.5L1131.8 769.3L1140.0 766.8L1147.5 775.6L1156.3 786.9L1163.9 783.1L1171.4 776.1L1179.0 778.1L1186.5 774.9L1194.1 777.6L1201.6 778.4L1209.9 776.9L1217.9 770.6L1225.5 763.5L1233.5 759.8L1241.8 753.0L1249.4 761.3L1256.9 771.3L1264.5 768.1L1272.5 764.8L1280.8 768.8L1288.4 772.1L1295.9 778.1L1303.9 787.7L1312.2 795.2L1319.8 786.2L1327.3 778.6L1334.9 771.8L1342.4 768.1L1358.8 766.3L1366.3 764.8L1373.8 764.0L1381.9 763.3L1390.2 763.0L1397.7 755.5L1406.0 739.1L1414.1 731.4L1421.1 736.6L1428.7 744.2" stroke="#2f66ff" stroke-width="1.1" fill="none" stroke-linejoin="round"/>
<rect x="1461" y="3" width="59" height="801" fill="#fff"/>
<path d="M1460.5 3V831" stroke="#3c3c3c" stroke-width="1" fill="none"/>
<path d="M3 804.5H1520" stroke="#4a4a4a" stroke-width="1" fill="none"/>
<text x="1468.3" y="53.9" font-size="12" fill="#676b76" font-weight="normal" text-anchor="start" textLength="41.7" lengthAdjust="spacingAndGlyphs" style="">2140.00</text>
<text x="1468.3" y="90.3" font-size="12" fill="#676b76" font-weight="normal" text-anchor="start" textLength="41.7" lengthAdjust="spacingAndGlyphs" style="">2120.00</text>
<text x="1468.3" y="126.6" font-size="12" fill="#676b76" font-weight="normal" text-anchor="start" textLength="41.7" lengthAdjust="spacingAndGlyphs" style="">2100.00</text>
<text x="1468.3" y="162.9" font-size="12" fill="#676b76" font-weight="normal" text-anchor="start" textLength="41.7" lengthAdjust="spacingAndGlyphs" style="">2080.00</text>
<text x="1468.3" y="199.3" font-size="12" fill="#676b76" font-weight="normal" text-anchor="start" textLength="41.7" lengthAdjust="spacingAndGlyphs" style="">2060.00</text>
<text x="1468.3" y="235.6" font-size="12" fill="#676b76" font-weight="normal" text-anchor="start" textLength="41.7" lengthAdjust="spacingAndGlyphs" style="">2040.00</text>
<text x="1468.3" y="271.9" font-size="12" fill="#676b76" font-weight="normal" text-anchor="start" textLength="41.7" lengthAdjust="spacingAndGlyphs" style="">2020.00</text>
<text x="1468.3" y="308.3" font-size="12" fill="#676b76" font-weight="normal" text-anchor="start" textLength="41.7" lengthAdjust="spacingAndGlyphs" style="">2000.00</text>
<text x="1468.3" y="344.6" font-size="12" fill="#676b76" font-weight="normal" text-anchor="start" textLength="41.7" lengthAdjust="spacingAndGlyphs" style="">1980.00</text>
<text x="1468.3" y="380.9" font-size="12" fill="#676b76" font-weight="normal" text-anchor="start" textLength="41.7" lengthAdjust="spacingAndGlyphs" style="">1960.00</text>
<text x="1468.3" y="417.3" font-size="12" fill="#676b76" font-weight="normal" text-anchor="start" textLength="41.7" lengthAdjust="spacingAndGlyphs" style="">1940.00</text>
<text x="1468.3" y="453.6" font-size="12" fill="#676b76" font-weight="normal" text-anchor="start" textLength="41.7" lengthAdjust="spacingAndGlyphs" style="">1920.00</text>
<text x="1468.3" y="489.9" font-size="12" fill="#676b76" font-weight="normal" text-anchor="start" textLength="41.7" lengthAdjust="spacingAndGlyphs" style="">1900.00</text>
<text x="1468.3" y="526.3" font-size="12" fill="#676b76" font-weight="normal" text-anchor="start" textLength="41.7" lengthAdjust="spacingAndGlyphs" style="">1880.00</text>
<text x="1468.3" y="562.6" font-size="12" fill="#676b76" font-weight="normal" text-anchor="start" textLength="41.7" lengthAdjust="spacingAndGlyphs" style="">1860.00</text>
<text x="1468.3" y="598.9" font-size="12" fill="#676b76" font-weight="normal" text-anchor="start" textLength="41.7" lengthAdjust="spacingAndGlyphs" style="">1840.00</text>
<text x="1468.3" y="635.3" font-size="12" fill="#676b76" font-weight="normal" text-anchor="start" textLength="41.7" lengthAdjust="spacingAndGlyphs" style="">1820.00</text>
<text x="1468.3" y="671.6" font-size="12" fill="#676b76" font-weight="normal" text-anchor="start" textLength="41.7" lengthAdjust="spacingAndGlyphs" style="">1800.00</text>
<text x="1468.3" y="714.6" font-size="12" fill="#676b76" font-weight="normal" text-anchor="start" textLength="28.7" lengthAdjust="spacingAndGlyphs" style="">20.00</text>
<text x="1468.3" y="773.2" font-size="12" fill="#676b76" font-weight="normal" text-anchor="start" textLength="22.6" lengthAdjust="spacingAndGlyphs" style="">0.00</text>
<path d="M1461 149H1514a2 2 0 0 1 2 2V164a2 2 0 0 1 -2 2H1461Z" fill="#000"/>
<text x="1468.3" y="161.9" font-size="12" fill="#fff" font-weight="bold" text-anchor="start" textLength="42.3" lengthAdjust="spacingAndGlyphs" style="">2081.00</text>
<path d="M1461 168H1514a2 2 0 0 1 2 2V183a2 2 0 0 1 -2 2H1461Z" fill="#000"/>
<text x="1468.3" y="180.9" font-size="12" fill="#fff" font-weight="bold" text-anchor="start" textLength="42.3" lengthAdjust="spacingAndGlyphs" style="">2070.42</text>
<path d="M1461 217H1514a2 2 0 0 1 2 2V232a2 2 0 0 1 -2 2H1461Z" fill="#000"/>
<text x="1468.3" y="229.9" font-size="12" fill="#fff" font-weight="bold" text-anchor="start" textLength="42.3" lengthAdjust="spacingAndGlyphs" style="">2043.61</text>
<path d="M1461 237H1514a2 2 0 0 1 2 2V252a2 2 0 0 1 -2 2H1461Z" fill="#000"/>
<text x="1468.3" y="249.9" font-size="12" fill="#fff" font-weight="bold" text-anchor="start" textLength="42.3" lengthAdjust="spacingAndGlyphs" style="">2032.13</text>
<path d="M1461 278H1514a2 2 0 0 1 2 2V293a2 2 0 0 1 -2 2H1461Z" fill="#000"/>
<text x="1468.3" y="290.9" font-size="12" fill="#fff" font-weight="bold" text-anchor="start" textLength="42.3" lengthAdjust="spacingAndGlyphs" style="">2009.75</text>
<path d="M1461 319H1514a2 2 0 0 1 2 2V334a2 2 0 0 1 -2 2H1461Z" fill="#000"/>
<text x="1468.3" y="331.9" font-size="12" fill="#fff" font-weight="bold" text-anchor="start" textLength="42.3" lengthAdjust="spacingAndGlyphs" style="">1987.23</text>
<path d="M1461 369H1514a2 2 0 0 1 2 2V384a2 2 0 0 1 -2 2H1461Z" fill="#000"/>
<text x="1468.3" y="381.9" font-size="12" fill="#fff" font-weight="bold" text-anchor="start" textLength="42.3" lengthAdjust="spacingAndGlyphs" style="">1959.74</text>
<path d="M1461 418H1514a2 2 0 0 1 2 2V433a2 2 0 0 1 -2 2H1461Z" fill="#000"/>
<text x="1468.3" y="430.9" font-size="12" fill="#fff" font-weight="bold" text-anchor="start" textLength="42.3" lengthAdjust="spacingAndGlyphs" style="">1932.49</text>
<path d="M1461 435H1514a2 2 0 0 1 2 2V450a2 2 0 0 1 -2 2H1461Z" fill="#000"/>
<text x="1468.3" y="447.9" font-size="12" fill="#fff" font-weight="bold" text-anchor="start" textLength="42.3" lengthAdjust="spacingAndGlyphs" style="">1931.57</text>
<path d="M1461 490H1514a2 2 0 0 1 2 2V505a2 2 0 0 1 -2 2H1461Z" fill="#000"/>
<text x="1468.3" y="502.9" font-size="12" fill="#fff" font-weight="bold" text-anchor="start" textLength="42.3" lengthAdjust="spacingAndGlyphs" style="">1893.12</text>
<path d="M1461 507H1514a2 2 0 0 1 2 2V522a2 2 0 0 1 -2 2H1461Z" fill="#000"/>
<text x="1468.3" y="519.9" font-size="12" fill="#fff" font-weight="bold" text-anchor="start" textLength="42.3" lengthAdjust="spacingAndGlyphs" style="">1885.03</text>
<path d="M1461 650H1514a2 2 0 0 1 2 2V665a2 2 0 0 1 -2 2H1461Z" fill="#000"/>
<text x="1468.3" y="662.9" font-size="12" fill="#fff" font-weight="bold" text-anchor="start" textLength="42.3" lengthAdjust="spacingAndGlyphs" style="">1804.78</text>
<rect x="1464.5" y="7.5" width="51" height="24.5" rx="4" fill="#fff" stroke="#e0e3eb"/>
<text x="1468.2" y="24" font-size="12" fill="#131722" font-weight="normal" text-anchor="start" textLength="20.5" lengthAdjust="spacingAndGlyphs" style="">USD</text>
<path d="M1505.5 19.2l3 3 3-3" stroke="#131722" stroke-width="1.4" fill="none"/>
<text x="37.8" y="821.6" font-size="12" fill="#5f636e" font-weight="normal" text-anchor="start" textLength="15.5" lengthAdjust="spacingAndGlyphs" style="">Jul</text>
<text x="199.9" y="821.6" font-size="12" fill="#5f636e" font-weight="normal" text-anchor="start" textLength="19.2" lengthAdjust="spacingAndGlyphs" style="">Aug</text>
<text x="289.8" y="821.6" font-size="12" fill="#5f636e" font-weight="normal" text-anchor="start" textLength="11.5" lengthAdjust="spacingAndGlyphs" style="">16</text>
<text x="380.1" y="821.6" font-size="12" fill="#5f636e" font-weight="normal" text-anchor="start" textLength="18.5" lengthAdjust="spacingAndGlyphs" style="">Sep</text>
<text x="544.1" y="821.6" font-size="12" fill="#5f636e" font-weight="normal" text-anchor="start" textLength="18.5" lengthAdjust="spacingAndGlyphs" style="">Oct</text>
<text x="633.8" y="821.6" font-size="12" fill="#5f636e" font-weight="normal" text-anchor="start" textLength="11.5" lengthAdjust="spacingAndGlyphs" style="">17</text>
<text x="715.8" y="821.6" font-size="12" fill="#5f636e" font-weight="normal" text-anchor="start" textLength="20" lengthAdjust="spacingAndGlyphs" style="">Nov</text>
<text x="806.1" y="821.6" font-size="12" fill="#5f636e" font-weight="normal" text-anchor="start" textLength="11.5" lengthAdjust="spacingAndGlyphs" style="">16</text>
<text x="887.6" y="821.6" font-size="12" fill="#5f636e" font-weight="normal" text-anchor="start" textLength="19.5" lengthAdjust="spacingAndGlyphs" style="">Dec</text>
<text x="1048.4" y="821.6" font-size="12" fill="#4a4d57" font-weight="bold" text-anchor="start" textLength="27" lengthAdjust="spacingAndGlyphs" style="">2024</text>
<text x="1142.2" y="821.6" font-size="12" fill="#5f636e" font-weight="normal" text-anchor="start" textLength="11.5" lengthAdjust="spacingAndGlyphs" style="">16</text>
<text x="1231.8" y="821.6" font-size="12" fill="#5f636e" font-weight="normal" text-anchor="start" textLength="19" lengthAdjust="spacingAndGlyphs" style="">Feb</text>
<text x="1394.5" y="821.6" font-size="12" fill="#5f636e" font-weight="normal" text-anchor="start" textLength="20" lengthAdjust="spacingAndGlyphs" style="">Mar</text>
<path d="M1484.6 818.4l3-5.1h5.9l3 5.1-3 5.1h-5.9z" stroke="#131722" stroke-width="1.1" fill="none"/><circle cx="1490.5" cy="818.4" r="1.7" stroke="#131722" stroke-width="1.1" fill="none"/>
<rect x="8" y="71" width="560" height="14" fill="#fff" opacity="0.85"/>
<rect x="9" y="9" width="652" height="20" fill="#fff" opacity="0.8"/>
<circle cx="20.9" cy="18.9" r="8.9" fill="#d4a006"/>
<path d="M17.9 17.8l1.4-2.7h3.2l1.4 2.7zM14.2 22l1.5-2.8h3.3l1.5 2.8zM21.3 22l1.5-2.8h3.3l1.5 2.8z" fill="#fff"/>
<text x="34.5" y="25.2" font-size="16" fill="#474a54" font-weight="normal" text-anchor="start" textLength="244.2" lengthAdjust="spacingAndGlyphs" style="">CFDs on Gold (US$ / OZ) · 1D · TVC</text>
<circle cx="303.1" cy="18.9" r="8.5" fill="#d3ece7"/><circle cx="303.1" cy="18.9" r="4" fill="#089981"/>
<text x="328.6" y="24.2" font-size="13" fill="#5d606b" font-weight="normal" text-anchor="start" textLength="8.6" lengthAdjust="spacingAndGlyphs" style="">O</text>
<text x="338.3" y="24.2" font-size="13" fill="#2c6e4f" font-weight="normal" text-anchor="start" textLength="45.4" lengthAdjust="spacingAndGlyphs" style="">2127.97</text>
<text x="390.3" y="24.2" font-size="13" fill="#5d606b" font-weight="normal" text-anchor="start" textLength="8" lengthAdjust="spacingAndGlyphs" style="">H</text>
<text x="399.5" y="24.2" font-size="13" fill="#2c6e4f" font-weight="normal" text-anchor="start" textLength="45.4" lengthAdjust="spacingAndGlyphs" style="">2131.56</text>
<text x="452" y="24.2" font-size="13" fill="#5d606b" font-weight="normal" text-anchor="start" textLength="5.6" lengthAdjust="spacingAndGlyphs" style="">L</text>
<text x="458.6" y="24.2" font-size="13" fill="#2c6e4f" font-weight="normal" text-anchor="start" textLength="45.4" lengthAdjust="spacingAndGlyphs" style="">2123.80</text>
<text x="511.1" y="24.2" font-size="13" fill="#5d606b" font-weight="normal" text-anchor="start" textLength="7" lengthAdjust="spacingAndGlyphs" style="">C</text>
<text x="519" y="24.2" font-size="13" fill="#2c6e4f" font-weight="normal" text-anchor="start" textLength="45.4" lengthAdjust="spacingAndGlyphs" style="">2129.03</text>
<text x="572.1" y="24.2" font-size="13" fill="#2c6e4f" font-weight="normal" text-anchor="start" textLength="29.6" lengthAdjust="spacingAndGlyphs" style="">+1.12</text>
<text x="608.3" y="24.2" font-size="13" fill="#2c6e4f" font-weight="normal" text-anchor="start" textLength="47.8" lengthAdjust="spacingAndGlyphs" style="">(+0.05%)</text>
<rect x="11.5" y="35.5" width="61" height="23" rx="4" fill="#fff" stroke="#f23645"/>
<text x="19.1" y="51.6" font-size="13" fill="#f23645" font-weight="normal" text-anchor="start" textLength="44.9" lengthAdjust="spacingAndGlyphs" style="">2129.03</text>
<text x="81.7" y="51.2" font-size="11" fill="#131722" font-weight="normal" text-anchor="start" textLength="10.1" lengthAdjust="spacingAndGlyphs" style="">12</text>
<rect x="100.5" y="35.5" width="61" height="23" rx="4" fill="#fff" stroke="#2962ff"/>
<text x="108.7" y="51.6" font-size="13" fill="#2962ff" font-weight="normal" text-anchor="start" textLength="44.5" lengthAdjust="spacingAndGlyphs" style="">2129.15</text>
<text x="12.2" y="79.8" font-size="12" fill="#5d606b" font-weight="normal" text-anchor="start" textLength="382.6" lengthAdjust="spacingAndGlyphs" style="">MA Ribbon SMA close 20 SMA close 50 SMA close 100 SMA close 200</text>
<text x="403.4" y="79.6" font-size="13" fill="#f23645" font-weight="normal" text-anchor="start" textLength="45.5" lengthAdjust="spacingAndGlyphs" style="">2040.00</text>
<text x="455.4" y="79.6" font-size="13" fill="#2962ff" font-weight="normal" text-anchor="start" textLength="45.2" lengthAdjust="spacingAndGlyphs" style="">2037.60</text>
<text x="508" y="79.6" font-size="12" fill="#131722" font-weight="normal" text-anchor="start" textLength="5.7" lengthAdjust="spacingAndGlyphs" style="">∅</text>
<text x="521.6" y="79.6" font-size="13" fill="#131722" font-weight="normal" text-anchor="start" textLength="44.7" lengthAdjust="spacingAndGlyphs" style="">1971.20</text>
<rect x="12.5" y="89.5" width="28" height="20" rx="3.5" fill="#fff" stroke="#dcdfe8"/>
<path d="M23.3 101.3l3.2-3.2 3.2 3.2" stroke="#131722" stroke-width="1.4" fill="none"/>
<text x="12" y="704.9" font-size="12" fill="#5d606b" font-weight="normal" text-anchor="start" textLength="67.3" lengthAdjust="spacingAndGlyphs" style="">ATR 14 RMA</text>
<text x="87.8" y="704.9" font-size="13" fill="#b22833" font-weight="normal" text-anchor="start" textLength="31.2" lengthAdjust="spacingAndGlyphs" style="">21.82</text>
<text x="12" y="749.1" font-size="12" fill="#5d606b" font-weight="normal" text-anchor="start" textLength="101.5" lengthAdjust="spacingAndGlyphs" style="">CCI 20 hlc3 SMA 5</text>
<text x="122.3" y="749.1" font-size="13" fill="#2962ff" font-weight="normal" text-anchor="start" textLength="37.9" lengthAdjust="spacingAndGlyphs" style="">215.15</text>
<g transform="translate(15.1 771.8) scale(0.82)"><path d="M14 22H7V11H0V4h14v18zM28 22h-8l7.5-18h8L28 22z" fill="#131722" stroke="#fff" stroke-width="2.4" paint-order="stroke"/><circle cx="20" cy="8" r="4" fill="#131722" stroke="#fff" stroke-width="2.4" paint-order="stroke"/></g>
<defs><filter id="wmb" x="-5%" y="-10%" width="110%" height="125%"><feGaussianBlur stdDeviation="0.85"/></filter>
<mask id="wmm" maskUnits="userSpaceOnUse" x="1260" y="730" width="263" height="80"><rect x="1260" y="730" width="263" height="80" fill="#fff"/><path d="M1289.5 740.5L1299.3 740.5L1299.3 754.9L1288.3 754.9ZM1300.4 743.6L1306.7 743.6L1309.0 739.7L1320.7 739.7L1320.0 742.8L1340.3 742.8L1338.7 749.8L1312.2 749.8L1309.0 751.8L1300.4 751.8ZM1288.7 757.6L1293.4 757.6L1294.4 765.8L1289.5 765.8ZM1288.0 773.3L1293.4 774.0L1294.2 776.4L1285.6 792.8L1278.6 794.7L1274.7 792.8L1281.7 789.6L1285.6 781.8ZM1303.2 751.8L1337.5 751.8L1334.0 769.3L1335.2 769.3L1333.2 776.4L1332.1 776.4L1327.4 793.9L1293.4 793.9L1298.5 776.4L1295.0 776.4L1296.9 769.3L1300.1 769.3ZM1349.5 741.6L1399.9 741.6L1397.9 748.3L1347.6 748.3ZM1389.7 748.3L1397.9 748.3L1394.4 762.3L1386.2 762.3ZM1349.1 748.3L1356.2 748.3L1352.6 762.3L1345.6 762.3ZM1345.6 762.3L1394.8 762.3L1392.5 770.1L1343.7 770.1ZM1384.3 770.1L1392.8 770.1L1387.8 789.6L1384.6 794.3L1376.8 794.7L1378.4 788.9ZM1364.7 788.5L1380.7 788.5L1383.9 794.7L1363.2 794.7ZM1340.5 777.5L1381.9 777.5L1379.6 784.6L1338.6 784.6ZM1407.6 742.0L1433.8 742.0L1424.4 779.1L1397.9 779.1ZM1400.6 779.1L1408.4 779.1L1408.8 781.8L1401.8 793.5L1395.9 795.5L1389.7 794.3L1395.1 789.6ZM1410.8 779.1L1417.8 779.1L1422.5 792.0L1421.7 795.1L1411.5 795.1L1415.4 789.6ZM1431.8 746.7L1460.3 746.7L1458.8 753.7L1430.3 753.7ZM1451.4 753.7L1458.8 753.7L1450.2 788.9L1446.7 793.2L1433.4 793.5L1433.8 788.1L1442.8 787.3ZM1439.6 758.4L1447.1 758.4L1436.9 781.8L1430.7 791.6L1424.0 793.2L1428.7 785.0ZM1479.7 741.2L1487.5 741.2L1474.2 756.9L1466.4 756.9ZM1482.0 755.3L1489.8 755.3L1476.6 771.7L1465.6 773.3L1464.9 766.2L1473.4 765.4ZM1462.5 774.0L1482.0 774.0L1480.5 781.4L1460.6 781.4ZM1458.6 788.1L1478.1 786.5L1476.6 794.7L1456.7 794.7ZM1490.6 742.0L1521.5 742.0L1520.3 745.9L1515.6 749.4L1489.8 749.4ZM1513.3 749.4L1520.3 745.9L1510.9 757.6L1497.6 768.6L1489.8 769.3L1491.4 765.4L1502.3 760.8ZM1502.3 756.9L1509.4 757.6L1516.8 761.5L1515.2 768.6L1505.5 768.6ZM1482.0 770.9L1514.8 770.9L1512.9 777.5L1480.1 777.5ZM1493.7 777.5L1502.7 777.5L1499.6 788.1L1490.6 788.1ZM1477.3 788.1L1509.4 788.1L1507.4 794.7L1475.4 794.7Z" fill="#000"/><path d="M1309.8 760.0L1326.6 760.0L1323.9 769.3L1306.3 769.3ZM1305.1 776.4L1321.9 776.4L1318.0 788.9L1300.8 788.9ZM1412.3 750.2L1423.6 750.2L1415.8 778.7L1404.5 778.7Z" fill="#fff"/></mask>
<mask id="wmh" maskUnits="userSpaceOnUse" x="1260" y="730" width="263" height="80"><rect x="1260" y="730" width="263" height="80" fill="#fff"/><path d="M1309.8 760.0L1326.6 760.0L1323.9 769.3L1306.3 769.3ZM1305.1 776.4L1321.9 776.4L1318.0 788.9L1300.8 788.9ZM1412.3 750.2L1423.6 750.2L1415.8 778.7L1404.5 778.7Z" fill="#000"/></mask></defs>
<g mask="url(#wmh)"><path d="M1289.5 740.5L1299.3 740.5L1299.3 754.9L1288.3 754.9ZM1300.4 743.6L1306.7 743.6L1309.0 739.7L1320.7 739.7L1320.0 742.8L1340.3 742.8L1338.7 749.8L1312.2 749.8L1309.0 751.8L1300.4 751.8ZM1288.7 757.6L1293.4 757.6L1294.4 765.8L1289.5 765.8ZM1288.0 773.3L1293.4 774.0L1294.2 776.4L1285.6 792.8L1278.6 794.7L1274.7 792.8L1281.7 789.6L1285.6 781.8ZM1303.2 751.8L1337.5 751.8L1334.0 769.3L1335.2 769.3L1333.2 776.4L1332.1 776.4L1327.4 793.9L1293.4 793.9L1298.5 776.4L1295.0 776.4L1296.9 769.3L1300.1 769.3ZM1349.5 741.6L1399.9 741.6L1397.9 748.3L1347.6 748.3ZM1389.7 748.3L1397.9 748.3L1394.4 762.3L1386.2 762.3ZM1349.1 748.3L1356.2 748.3L1352.6 762.3L1345.6 762.3ZM1345.6 762.3L1394.8 762.3L1392.5 770.1L1343.7 770.1ZM1384.3 770.1L1392.8 770.1L1387.8 789.6L1384.6 794.3L1376.8 794.7L1378.4 788.9ZM1364.7 788.5L1380.7 788.5L1383.9 794.7L1363.2 794.7ZM1340.5 777.5L1381.9 777.5L1379.6 784.6L1338.6 784.6ZM1407.6 742.0L1433.8 742.0L1424.4 779.1L1397.9 779.1ZM1400.6 779.1L1408.4 779.1L1408.8 781.8L1401.8 793.5L1395.9 795.5L1389.7 794.3L1395.1 789.6ZM1410.8 779.1L1417.8 779.1L1422.5 792.0L1421.7 795.1L1411.5 795.1L1415.4 789.6ZM1431.8 746.7L1460.3 746.7L1458.8 753.7L1430.3 753.7ZM1451.4 753.7L1458.8 753.7L1450.2 788.9L1446.7 793.2L1433.4 793.5L1433.8 788.1L1442.8 787.3ZM1439.6 758.4L1447.1 758.4L1436.9 781.8L1430.7 791.6L1424.0 793.2L1428.7 785.0ZM1479.7 741.2L1487.5 741.2L1474.2 756.9L1466.4 756.9ZM1482.0 755.3L1489.8 755.3L1476.6 771.7L1465.6 773.3L1464.9 766.2L1473.4 765.4ZM1462.5 774.0L1482.0 774.0L1480.5 781.4L1460.6 781.4ZM1458.6 788.1L1478.1 786.5L1476.6 794.7L1456.7 794.7ZM1490.6 742.0L1521.5 742.0L1520.3 745.9L1515.6 749.4L1489.8 749.4ZM1513.3 749.4L1520.3 745.9L1510.9 757.6L1497.6 768.6L1489.8 769.3L1491.4 765.4L1502.3 760.8ZM1502.3 756.9L1509.4 757.6L1516.8 761.5L1515.2 768.6L1505.5 768.6ZM1482.0 770.9L1514.8 770.9L1512.9 777.5L1480.1 777.5ZM1493.7 777.5L1502.7 777.5L1499.6 788.1L1490.6 788.1ZM1477.3 788.1L1509.4 788.1L1507.4 794.7L1475.4 794.7Z" fill="#ffffff" fill-opacity="0.8"/></g>
<g mask="url(#wmm)"><g filter="url(#wmb)" transform="translate(1.9 1.9)" opacity="0.8"><g mask="url(#wmh)"><path d="M1289.5 740.5L1299.3 740.5L1299.3 754.9L1288.3 754.9ZM1300.4 743.6L1306.7 743.6L1309.0 739.7L1320.7 739.7L1320.0 742.8L1340.3 742.8L1338.7 749.8L1312.2 749.8L1309.0 751.8L1300.4 751.8ZM1288.7 757.6L1293.4 757.6L1294.4 765.8L1289.5 765.8ZM1288.0 773.3L1293.4 774.0L1294.2 776.4L1285.6 792.8L1278.6 794.7L1274.7 792.8L1281.7 789.6L1285.6 781.8ZM1303.2 751.8L1337.5 751.8L1334.0 769.3L1335.2 769.3L1333.2 776.4L1332.1 776.4L1327.4 793.9L1293.4 793.9L1298.5 776.4L1295.0 776.4L1296.9 769.3L1300.1 769.3ZM1349.5 741.6L1399.9 741.6L1397.9 748.3L1347.6 748.3ZM1389.7 748.3L1397.9 748.3L1394.4 762.3L1386.2 762.3ZM1349.1 748.3L1356.2 748.3L1352.6 762.3L1345.6 762.3ZM1345.6 762.3L1394.8 762.3L1392.5 770.1L1343.7 770.1ZM1384.3 770.1L1392.8 770.1L1387.8 789.6L1384.6 794.3L1376.8 794.7L1378.4 788.9ZM1364.7 788.5L1380.7 788.5L1383.9 794.7L1363.2 794.7ZM1340.5 777.5L1381.9 777.5L1379.6 784.6L1338.6 784.6ZM1407.6 742.0L1433.8 742.0L1424.4 779.1L1397.9 779.1ZM1400.6 779.1L1408.4 779.1L1408.8 781.8L1401.8 793.5L1395.9 795.5L1389.7 794.3L1395.1 789.6ZM1410.8 779.1L1417.8 779.1L1422.5 792.0L1421.7 795.1L1411.5 795.1L1415.4 789.6ZM1431.8 746.7L1460.3 746.7L1458.8 753.7L1430.3 753.7ZM1451.4 753.7L1458.8 753.7L1450.2 788.9L1446.7 793.2L1433.4 793.5L1433.8 788.1L1442.8 787.3ZM1439.6 758.4L1447.1 758.4L1436.9 781.8L1430.7 791.6L1424.0 793.2L1428.7 785.0ZM1479.7 741.2L1487.5 741.2L1474.2 756.9L1466.4 756.9ZM1482.0 755.3L1489.8 755.3L1476.6 771.7L1465.6 773.3L1464.9 766.2L1473.4 765.4ZM1462.5 774.0L1482.0 774.0L1480.5 781.4L1460.6 781.4ZM1458.6 788.1L1478.1 786.5L1476.6 794.7L1456.7 794.7ZM1490.6 742.0L1521.5 742.0L1520.3 745.9L1515.6 749.4L1489.8 749.4ZM1513.3 749.4L1520.3 745.9L1510.9 757.6L1497.6 768.6L1489.8 769.3L1491.4 765.4L1502.3 760.8ZM1502.3 756.9L1509.4 757.6L1516.8 761.5L1515.2 768.6L1505.5 768.6ZM1482.0 770.9L1514.8 770.9L1512.9 777.5L1480.1 777.5ZM1493.7 777.5L1502.7 777.5L1499.6 788.1L1490.6 788.1ZM1477.3 788.1L1509.4 788.1L1507.4 794.7L1475.4 794.7Z" fill="#3a3a3a"/></g></g></g>
<g font-weight="bold" font-style="italic" fill="#7f9ed6" stroke="#7f9ed6" stroke-width="1.3" opacity="0.85">
<text x="1290.1" y="827.9" font-size="30">z</text>
<text x="1316.7" y="827.9" font-size="30">z</text>
<text x="1344.9" y="827.9" font-size="30">r</text>
<text x="1369.8" y="827.9" font-size="28.5">t</text>
<text x="1388.9" y="827.9" font-size="28.5">0</text>
<text x="1423.1" y="827.9" font-size="28.5">1</text>
<text x="1447.9" y="827.9" font-size="30">.</text>
<text x="1467.8" y="827.9" font-size="30">c</text>
<text x="1496.7" y="827.9" font-size="29">n</text>
</g>
<g font-weight="bold" font-style="italic" fill="#8ec9ff" stroke="#8ec9ff" stroke-width="1.3" opacity="1">
<text x="1288.5" y="826.4" font-size="30">z</text>
<text x="1315.1" y="826.4" font-size="30">z</text>
<text x="1343.3" y="826.4" font-size="30">r</text>
<text x="1368.2" y="826.4" font-size="28.5">t</text>
<text x="1387.3" y="826.4" font-size="28.5">0</text>
<text x="1421.5" y="826.4" font-size="28.5">1</text>
<text x="1446.3" y="826.4" font-size="30">.</text>
<text x="1466.2" y="826.4" font-size="30">c</text>
<text x="1495.1" y="826.4" font-size="29">n</text>
</g>
<path d="M1460.5 735V831" stroke="#3c3c3c" stroke-width="1" fill="none" opacity="0.75"/>
<path d="M1270 804.5H1520" stroke="#4a4a4a" stroke-width="1" fill="none" opacity="0.6"/></svg></body></html>
